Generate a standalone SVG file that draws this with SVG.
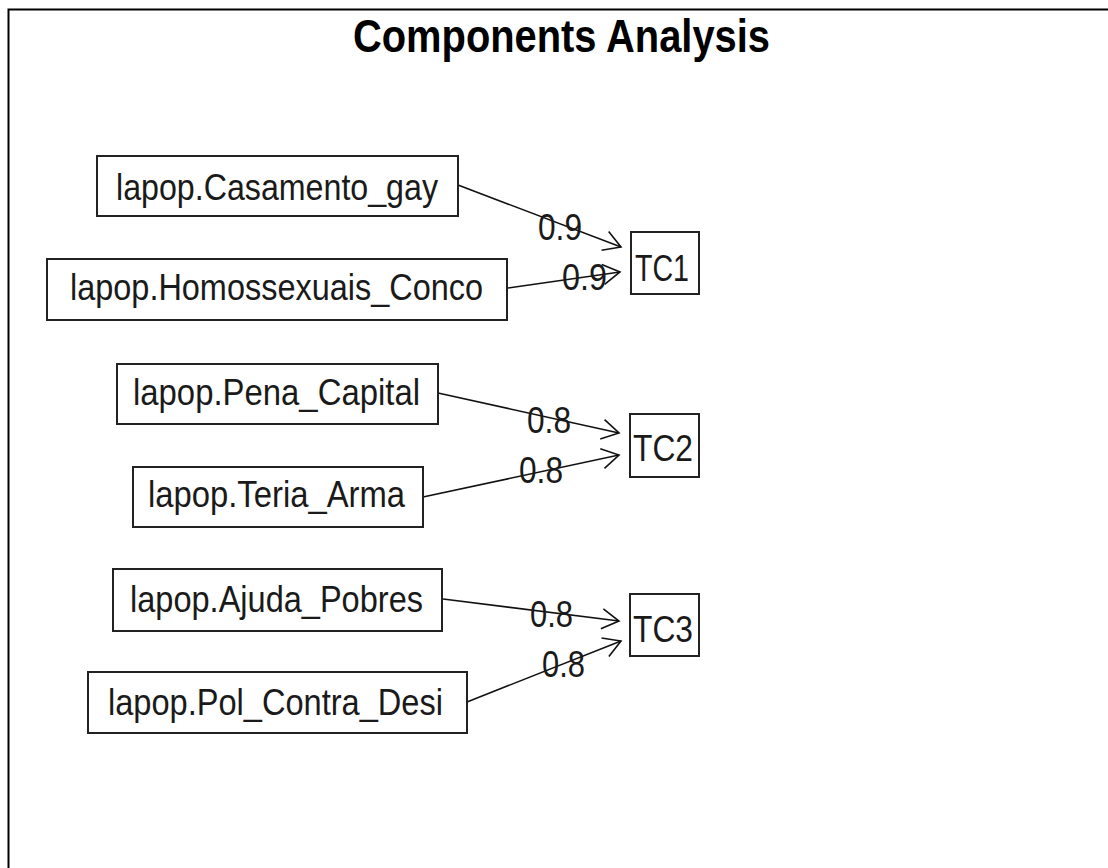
<svg xmlns="http://www.w3.org/2000/svg" width="1108" height="868" viewBox="0 0 1108 868">
<defs>
<style>
.box{fill:#fff;stroke:#222;stroke-width:2}
.lbl{font-family:"Liberation Sans",Arial,sans-serif;font-size:37px;fill:#1a1a1a}
.edge{stroke:#111;stroke-width:1.6;fill:none}
.el{font-family:"Liberation Sans",Arial,sans-serif;font-size:37px;fill:#1a1a1a}
.title{font-family:"Liberation Sans",Arial,sans-serif;font-size:46px;font-weight:bold;fill:#000}
</style>
<marker id="arr" markerUnits="userSpaceOnUse" markerWidth="40" markerHeight="40" viewBox="-20 -20 40 40" refX="0" refY="0" orient="auto">
<path d="M -17,-10 L 0,0 L -17,10" fill="none" stroke="#111" stroke-width="1.6"/>
</marker>
</defs>
<rect width="1108" height="868" fill="#fff"/>
<path d="M 8.5,868 L 8.5,9.5 L 1108,9.5" fill="none" stroke="#000" stroke-width="2"/>
<text class="title" x="353" y="52" textLength="417" lengthAdjust="spacingAndGlyphs">Components Analysis</text>
<g id="connectors">
<line class="edge" x1="458" y1="185" x2="621" y2="247" marker-end="url(#arr)"/>
<line class="edge" x1="508" y1="288" x2="620" y2="272" marker-end="url(#arr)"/>
<line class="edge" x1="438" y1="393" x2="619" y2="433" marker-end="url(#arr)"/>
<line class="edge" x1="423" y1="497" x2="619" y2="455" marker-end="url(#arr)"/>
<line class="edge" x1="443" y1="599" x2="619" y2="621" marker-end="url(#arr)"/>
<line class="edge" x1="467" y1="702" x2="621" y2="641" marker-end="url(#arr)"/>
<text class="el" x="538" y="240" textLength="44" lengthAdjust="spacingAndGlyphs">0.9</text>
<text class="el" x="562" y="290" textLength="45" lengthAdjust="spacingAndGlyphs">0.9</text>
<text class="el" x="527" y="433" textLength="44" lengthAdjust="spacingAndGlyphs">0.8</text>
<text class="el" x="519" y="483" textLength="44" lengthAdjust="spacingAndGlyphs">0.8</text>
<text class="el" x="530" y="627" textLength="43" lengthAdjust="spacingAndGlyphs">0.8</text>
<text class="el" x="542" y="677" textLength="43" lengthAdjust="spacingAndGlyphs">0.8</text>
</g>
<g id="n-casamento">
<rect class="box" x="97" y="156" width="361" height="60"/>
<text class="lbl" x="116" y="200" textLength="322" lengthAdjust="spacingAndGlyphs">lapop.Casamento_gay</text>
</g>
<g id="n-homossexuais">
<rect class="box" x="47" y="259" width="460" height="61"/>
<text class="lbl" x="70" y="300" textLength="413" lengthAdjust="spacingAndGlyphs">lapop.Homossexuais_Conco</text>
</g>
<g id="n-pena">
<rect class="box" x="117" y="364" width="321" height="60"/>
<text class="lbl" x="133" y="405" textLength="287" lengthAdjust="spacingAndGlyphs">lapop.Pena_Capital</text>
</g>
<g id="n-teria">
<rect class="box" x="133" y="467" width="290" height="60"/>
<text class="lbl" x="148" y="507" textLength="257" lengthAdjust="spacingAndGlyphs">lapop.Teria_Arma</text>
</g>
<g id="n-ajuda">
<rect class="box" x="113" y="569" width="329" height="62"/>
<text class="lbl" x="130" y="612" textLength="293" lengthAdjust="spacingAndGlyphs">lapop.Ajuda_Pobres</text>
</g>
<g id="n-pol">
<rect class="box" x="88" y="672" width="379" height="61"/>
<text class="lbl" x="108" y="715" textLength="335" lengthAdjust="spacingAndGlyphs">lapop.Pol_Contra_Desi</text>
</g>
<g id="n-tc1">
<rect class="box" x="631" y="232" width="68" height="62"/>
<text class="lbl" x="635" y="281" textLength="54" lengthAdjust="spacingAndGlyphs">TC1</text>
</g>
<g id="n-tc2">
<rect class="box" x="630" y="414" width="69" height="63"/>
<text class="lbl" x="633" y="461" textLength="60" lengthAdjust="spacingAndGlyphs">TC2</text>
</g>
<g id="n-tc3">
<rect class="box" x="630" y="594" width="69" height="62"/>
<text class="lbl" x="633" y="642" textLength="60" lengthAdjust="spacingAndGlyphs">TC3</text>
</g>
</svg>
